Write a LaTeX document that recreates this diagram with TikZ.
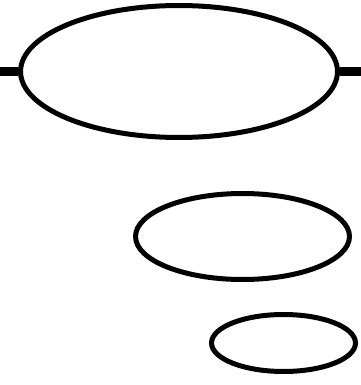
\documentclass[tikz,border=0pt]{standalone}
\usetikzlibrary{shapes.geometric}
\begin{document}
\begin{tikzpicture}[x=0.02cm,y=-0.02cm,
    oval/.style={ellipse, draw, line width=0.1cm, inner sep=0pt}]
                \useasboundingbox (0,0) rectangle (361,385);
                \foreach \n/\x/\y/\w/\h in {top/179/71.5/6.34/2.64, mid/242.5/236.5/4.28/1.72, low/283.5/343/2.88/1.14}
                \node[oval, minimum width=\w cm, minimum height=\h cm] (\n) at (\x,\y) {};
                \coordinate (l) at (0,71.5);
                \coordinate (r) at (361,71.5);
                \draw[line width=0.2cm] (l) -- (top.west);
                \draw[line width=0.2cm] (top.east) -- (r);
            \end{tikzpicture}
\end{document}
